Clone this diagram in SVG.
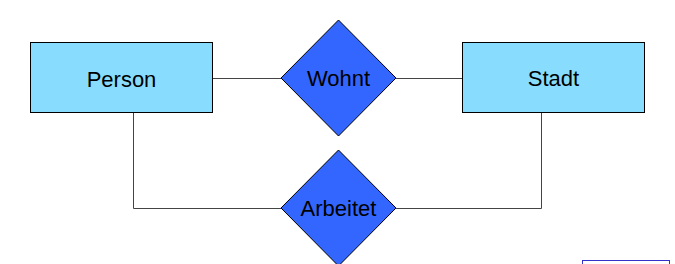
<svg xmlns="http://www.w3.org/2000/svg" width="675" height="264" viewBox="0 0 675 264">
<style>
.ent{fill:#88DDFF;stroke:#000;stroke-width:1}
.rel{fill:#3366FF;stroke:#000;stroke-width:1}
.lbl{font-family:"Liberation Sans",Arial,sans-serif;font-size:22px;fill:#000;text-anchor:middle;dominant-baseline:central}
.con{fill:none;stroke:#444;stroke-width:1}
</style>
<rect width="675" height="264" fill="#fff"/>
<g id="connectors">
<line class="con" x1="212.5" y1="78.5" x2="281" y2="78.5"/>
<line class="con" x1="396" y1="78.5" x2="462.5" y2="78.5"/>
<polyline class="con" points="133.5,112.5 133.5,208.5 281,208.5"/>
<polyline class="con" points="541.5,112.5 541.5,208.5 396,208.5"/>
</g>
<g id="person">
<rect class="ent" x="30.5" y="42.5" width="182" height="70"/>
<text class="lbl" x="121.5" y="79">Person</text>
</g>
<g id="stadt">
<rect class="ent" x="462.5" y="42.5" width="182" height="70"/>
<text class="lbl" x="553.5" y="78">Stadt</text>
</g>
<g id="wohnt">
<polygon class="rel" points="338.5,20 396,78 338.5,136 281,78"/>
<text class="lbl" x="338.5" y="78">Wohnt</text>
</g>
<g id="arbeitet">
<polygon class="rel" points="338.5,150 396,208 338.5,266 281,208"/>
<text class="lbl" x="338.5" y="208">Arbeitet</text>
</g>
<g id="box">
<rect x="582.5" y="260.5" width="87" height="20" fill="none" stroke="#3333CC" stroke-width="1"/>
</g>
</svg>
